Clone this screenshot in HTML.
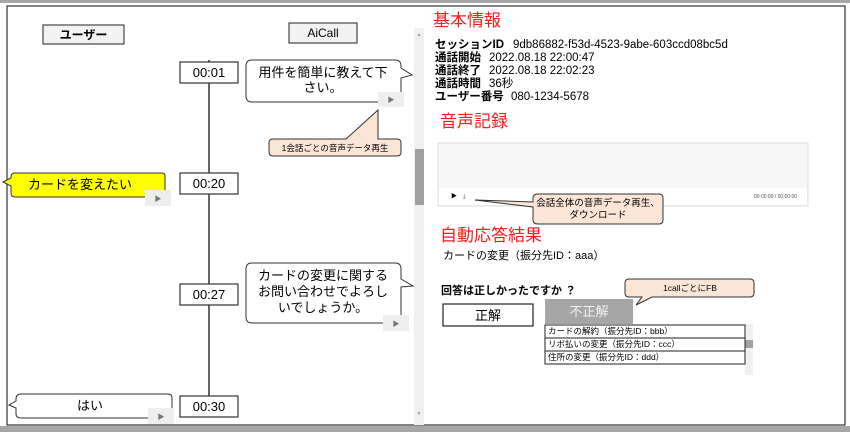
<!DOCTYPE html>
<html><head><meta charset="utf-8"><style>
html,body{margin:0;padding:0;width:850px;height:432px;overflow:hidden;background:#fff}
svg{display:block}
text{font-family:"Liberation Sans","Noto Sans CJK JP",sans-serif}
</style></head><body>
<svg width="850" height="432" viewBox="0 0 850 432" xmlns="http://www.w3.org/2000/svg">
<rect x="0" y="0" width="850" height="432" fill="#a6a6a6"/>
<rect x="0" y="3" width="850" height="423" fill="#fff"/>
<rect x="7" y="6" width="838" height="419" fill="#fff" stroke="#333" stroke-width="1.2"/>
<rect x="0" y="426" width="850" height="6" fill="#a6a6a6"/>

<!-- headers -->
<rect x="43" y="25" width="81" height="19" fill="#f2f2f2" stroke="#222"/>
<text x="83.5" y="39" font-size="12" text-anchor="middle" font-weight="bold">ユーザー</text>
<rect x="289" y="23" width="68" height="20" fill="#f2f2f2" stroke="#222"/>
<text x="323" y="37" font-size="12" text-anchor="middle">AiCall</text>

<!-- scrollbar -->
<rect x="414" y="28" width="10" height="397" fill="#f0f0f0"/>
<rect x="415" y="149" width="9" height="56" fill="#a0a0a0"/>
<text x="419" y="36" font-size="5" fill="#999" text-anchor="middle">▲</text>
<text x="419" y="415" font-size="5" fill="#999" text-anchor="middle">▼</text>

<!-- timeline -->
<line x1="209" y1="60" x2="209" y2="400" stroke="#333" stroke-width="1.5"/>
<g fill="#fff" stroke="#333" stroke-width="1.2">
<rect x="180" y="62" width="58" height="21"/>
<rect x="180" y="173" width="58" height="21"/>
<rect x="180" y="284" width="58" height="21"/>
<rect x="180" y="396" width="58" height="21"/>
</g>
<g font-size="13" text-anchor="middle">
<text x="209" y="77">00:01</text>
<text x="209" y="188">00:20</text>
<text x="209" y="299">00:27</text>
<text x="209" y="411">00:30</text>
</g>

<!-- bubble 1 -->
<path d="M252 60 H395 Q401 60 401 66 V68 L412 75 L401 78 V96 Q401 102 395 102 H252 Q246 102 246 96 V66 Q246 60 252 60Z" fill="#fff" stroke="#333"/>
<text x="323" y="77" font-size="13" text-anchor="middle">用件を簡単に教えて下</text>
<text x="323" y="92" font-size="13" text-anchor="middle">さい。</text>
<rect x="378" y="92" width="26" height="15" fill="#eee"/>
<text x="391" y="102" font-size="7" fill="#777" text-anchor="middle">▶</text>

<!-- callout 1 -->
<path d="M273 139 H346 L378 110 L378 139 H397 Q401 139 401 143 V152 Q401 156 397 156 H273 Q269 156 269 152 V143 Q269 139 273 139Z" fill="#fbe5d6" stroke="#333"/>
<text x="335" y="151" font-size="8.5" text-anchor="middle">1会話ごとの音声データ再生</text>

<!-- yellow bubble -->
<path d="M15 173 H162 Q165 173 165 176 V197 H15 Q11 197 11 193 V186 L3 182 L11 178 V177 Q11 173 15 173Z" fill="#ffff00" stroke="#333"/>
<text x="80" y="189" font-size="13" text-anchor="middle">カードを変えたい</text>
<rect x="145" y="190" width="26" height="16" fill="#eee"/>
<text x="158" y="201" font-size="7" fill="#777" text-anchor="middle">▶</text>

<!-- bubble 3 -->
<path d="M252 263 H395 Q401 263 401 269 V279 L413 286 L401 287 V317 Q401 323 395 323 H252 Q246 323 246 317 V269 Q246 263 252 263Z" fill="#fff" stroke="#333"/>
<text x="323" y="280" font-size="13" text-anchor="middle">カードの変更に関する</text>
<text x="323" y="296" font-size="13" text-anchor="middle">お問い合わせでよろし</text>
<text x="323" y="312" font-size="13" text-anchor="middle">いでしょうか。</text>
<rect x="383" y="315" width="26" height="16" fill="#eee"/>
<text x="396" y="326" font-size="7" fill="#777" text-anchor="middle">▶</text>

<!-- はい -->
<path d="M21 394 H168 Q172 394 172 398 V418 H21 Q16 418 16 414 V408 L9 405 L16 401 V399 Q16 394 21 394Z" fill="#fff" stroke="#333"/>
<text x="90" y="410" font-size="13" text-anchor="middle">はい</text>
<rect x="148" y="408" width="26" height="16" fill="#eee"/>
<text x="161" y="419" font-size="7" fill="#777" text-anchor="middle">▶</text>

<!-- right panel -->
<text x="433" y="26" font-size="17" fill="#ff1a1a">基本情報</text>
<g font-size="11.5">
<text x="435" y="48" font-weight="bold">セッションID</text><text x="513" y="48">9db86882-f53d-4523-9abe-603ccd08bc5d</text>
<text x="435" y="61" font-weight="bold">通話開始</text><text x="489" y="61">2022.08.18 22:00:47</text>
<text x="435" y="74" font-weight="bold">通話終了</text><text x="489" y="74">2022.08.18 22:02:23</text>
<text x="435" y="87" font-weight="bold">通話時間</text><text x="489" y="87">36秒</text>
<text x="435" y="100" font-weight="bold">ユーザー番号</text><text x="511" y="100">080-1234-5678</text>
</g>
<text x="440" y="127" font-size="17" fill="#ff1a1a">音声記録</text>
<rect x="438" y="143" width="370" height="63" fill="#f7f7f7" stroke="#ddd"/>
<rect x="439" y="188" width="368" height="17" fill="#fff"/>
<text x="451" y="198" font-size="6">▶</text>
<text x="463" y="198" font-size="6" fill="#555">⤓</text>
<text x="754" y="198" font-size="5" fill="#555">00:00:00 / 00:00:00</text>
<path d="M538 194 H659 Q663 194 663 198 V220 Q663 224 659 224 H538 Q533 224 533 220 V207 L475 200 L533 202 V198 Q533 194 538 194Z" fill="#fbe5d6" stroke="#333"/>
<text x="598" y="206" font-size="9.5" text-anchor="middle">会話全体の音声データ再生、</text>
<text x="598" y="218" font-size="9.5" text-anchor="middle">ダウンロード</text>

<text x="440" y="241" font-size="17" fill="#ff1a1a">自動応答結果</text>
<text x="443" y="259" font-size="11">カードの変更（振分先ID：aaa）</text>
<text x="441" y="294" font-size="11" font-weight="bold">回答は正しかったですか ？</text>
<rect x="443" y="304" width="90" height="22" fill="#fff" stroke="#222" stroke-width="1.2"/>
<text x="488" y="320" font-size="13" text-anchor="middle">正解</text>
<rect x="545" y="299" width="88" height="25" fill="#a6a6a6"/>
<text x="589" y="316" font-size="13" text-anchor="middle" fill="#f2f2f2">不正解</text>
<rect x="745" y="324" width="8" height="51" fill="#f0f0f0"/>
<rect x="745" y="340" width="8" height="8" fill="#a0a0a0"/>
<g fill="#fff" stroke="#222">
<rect x="545" y="325" width="200" height="13"/>
<rect x="545" y="338" width="200" height="13"/>
<rect x="545" y="351" width="200" height="13"/>
</g>
<g font-size="8.5">
<text x="548" y="334">カードの解約（振分先ID：bbb）</text>
<text x="548" y="347">リボ払いの変更（振分先ID：ccc）</text>
<text x="548" y="360">住所の変更（振分先ID：ddd）</text>
</g>
<path d="M629 279 H750 Q754 279 754 283 V293 Q754 297 750 297 H652 L636 305 L642 297 H629 Q625 297 625 293 V283 Q625 279 629 279Z" fill="#fbe5d6" stroke="#333"/>
<text x="690" y="291" font-size="8.5" text-anchor="middle">1callごとにFB</text>
</svg>
</body></html>
